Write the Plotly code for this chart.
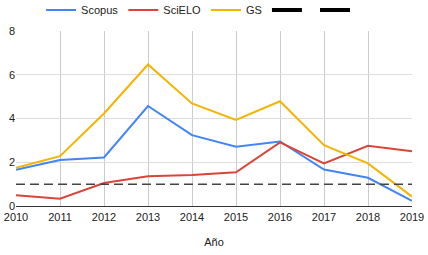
import plotly.graph_objects as go

years = [2010, 2011, 2012, 2013, 2014, 2015, 2016, 2017, 2018, 2019]
scopus = [1.66, 2.1, 2.22, 4.57, 3.24, 2.71, 2.95, 1.67, 1.29, 0.23]
scielo = [0.49, 0.33, 1.05, 1.36, 1.42, 1.54, 2.91, 1.95, 2.75, 2.5]
gs = [1.75, 2.28, 4.23, 6.47, 4.69, 3.93, 4.79, 2.78, 1.95, 0.43]
ref = [1] * len(years)

font = "Liberation Sans, Arial, sans-serif"
fig = go.Figure()
fig.add_trace(go.Scatter(x=years, y=scopus, mode="lines", name="Scopus",
                         line=dict(color="#4285F4", width=2)))
fig.add_trace(go.Scatter(x=years, y=scielo, mode="lines", name="SciELO",
                         line=dict(color="#DB4437", width=2)))
fig.add_trace(go.Scatter(x=years, y=gs, mode="lines", name="GS",
                         line=dict(color="#F4B400", width=2)))
fig.add_trace(go.Scatter(x=years, y=ref, mode="lines", showlegend=False,
                         line=dict(color="#444444", width=1.5, dash="9px,5px")))
for _ in range(2):
    fig.add_trace(go.Scatter(x=[None], y=[None], mode="lines", name=" ",
                             line=dict(color="#000000", width=4)))

fig.update_layout(
    width=428, height=255,
    margin=dict(l=16, r=16, t=31, b=49, autoexpand=False),
    paper_bgcolor="white", plot_bgcolor="white",
    font=dict(family=font, size=11, color="#222"),
    showlegend=True,
    legend=dict(orientation="h", x=0.47, xanchor="center", y=1.12, yanchor="middle",
                font=dict(size=11), itemwidth=30, tracegroupgap=0,
                bgcolor="rgba(0,0,0,0)"),
    xaxis=dict(range=[2010, 2019], tickvals=years, ticktext=[str(y) for y in years],
               showgrid=True, gridcolor="#cccccc", gridwidth=1, zeroline=False,
               showline=False, ticks="", tickfont=dict(size=11), automargin=False,
               ticklabelstandoff=3,
               title=dict(text="Año", font=dict(size=11), standoff=16)),
    yaxis=dict(range=[0, 8], tickvals=[0, 2, 4, 6, 8], showgrid=True,
               gridcolor="#dddddd", gridwidth=1, zeroline=True, zerolinecolor="#333333",
               zerolinewidth=1, showline=False, ticks="", tickfont=dict(size=11),
               automargin=False),
)
fig.write_html("out.html", config={"displayModeBar": False},
               post_script="document.body.style.margin='0';document.body.style.overflow='hidden';")
